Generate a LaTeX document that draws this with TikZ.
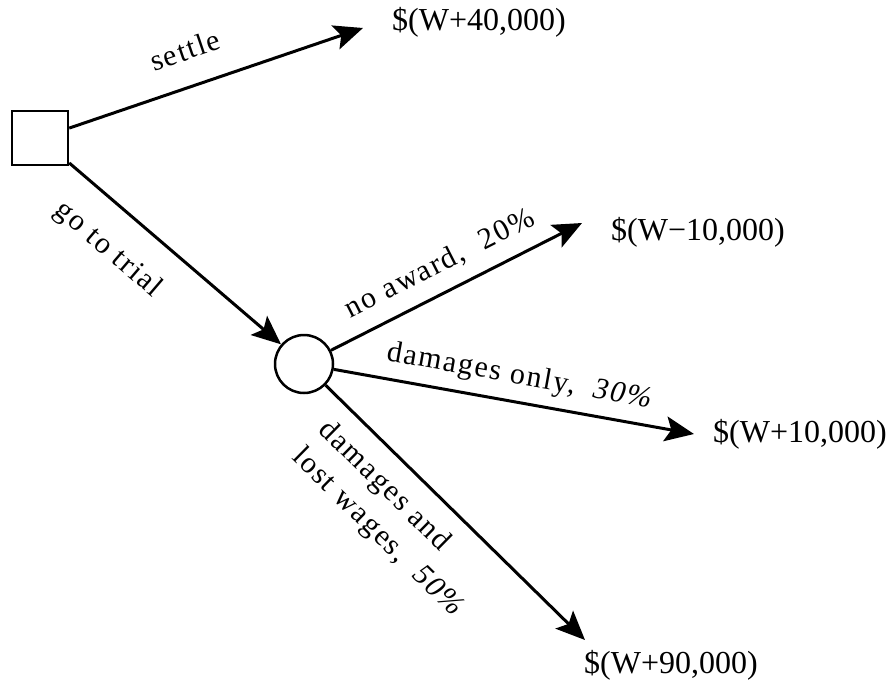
\documentclass[tikz,border=0pt]{standalone}
\usepackage{fontspec}
\setmainfont{Liberation Serif}
\newfontfamily\lblfont[LetterSpace=6]{Liberation Serif}
\usetikzlibrary{arrows.meta}
\begin{document}
\begin{tikzpicture}[x=1pt,y=-1pt,
  every node/.style={font=\fontsize{32}{36}\selectfont},
  decision/.style={draw,line width=2.5pt,minimum width=56pt,minimum height=54pt,inner sep=0pt},
  chance/.style={draw,circle,line width=2.5pt,minimum size=58pt,inner sep=0pt},
  branch/.style={line width=3pt,-{Stealth[length=29pt,width=25pt,inset=6pt]}},
  outcome/.style={inner sep=0pt},
  lbl/.style={inner sep=0pt,font=\lblfont\fontsize{30}{38}\selectfont}]
\useasboundingbox (0,0) rectangle (892,694);
\node[decision] (sq) at (40,138) {};
\node[chance] (ch) at (304,364) {};
\node[outcome] (o1) at (479,22) {\$(W+40,000)};
\node[outcome] (o2) at (698,232) {\$(W−10,000)};
\node[outcome] (o3) at (800,434) {\$(W+10,000)};
\node[outcome] (o4) at (671,665) {\$(W+90,000)};
\coordinate (t1) at (363,28);
\coordinate (t2) at (582,223);
\coordinate (t3) at (694,434);
\coordinate (t4) at (585,640);
\draw[branch] (sq) -- (t1);
\draw[branch] (sq) -- (ch);
\draw[branch] (ch) -- (t2);
\draw[branch] (ch) -- (t3);
\draw[branch] (ch) -- (t4);
\node[lbl,rotate=18.8] (l1) at (185,50) {settle};
\node[lbl,rotate=-40.6] (l2) at (108,250) {go to trial};
\node[lbl,rotate=27] (l3) at (440,264) {no award,\ \ 20\%};
\node[lbl,rotate=-10.2] (l4) at (520,377) {damages only,\ \ \textit{30\%}};
\node[lbl,rotate=-44.5,align=left] (l5) at (391,520) {damages and\\lost wages,\ \ \textit{50\%}};
\end{tikzpicture}
\end{document}
